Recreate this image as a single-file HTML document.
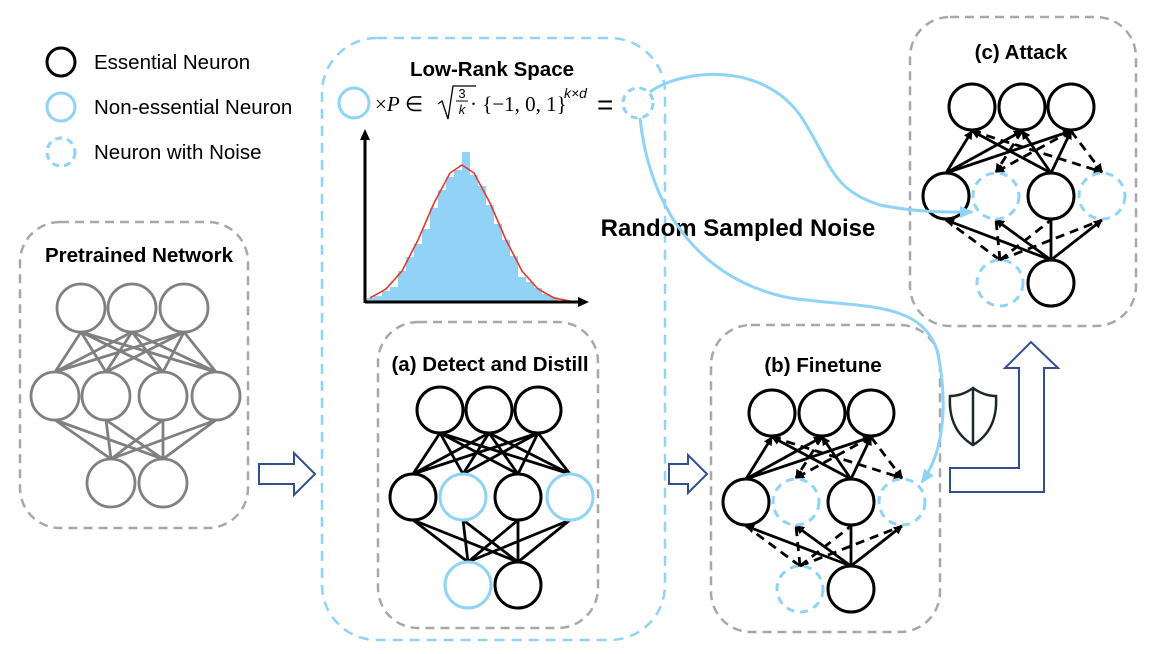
<!DOCTYPE html>
<html><head><meta charset="utf-8"><style>
body{margin:0;background:#fff;}
svg{display:block;}
text{font-family:"Liberation Sans",Arial,sans-serif;}
.t{font-weight:bold;font-size:20.5px;text-anchor:middle;}
.f{font-family:"Liberation Serif",serif;font-size:21px;}
</style></head><body>
<svg width="1163" height="654" viewBox="0 0 1163 654" xmlns="http://www.w3.org/2000/svg">
<defs>
<marker id="ah" markerWidth="9" markerHeight="9" refX="8" refY="4.5" orient="auto" markerUnits="userSpaceOnUse"><path d="M0,0 L9,4.5 L0,9 Z" fill="#000"/></marker>
<marker id="bh" markerWidth="14" markerHeight="12" refX="12" refY="6" orient="auto" markerUnits="userSpaceOnUse"><path d="M0,0 L14,6 L0,12 Z" fill="#8fd3f7"/></marker>
<g id="net">
 <g stroke="#000" stroke-width="2.8" fill="none">
  <line x1="746" y1="479" x2="772" y2="437" marker-end="url(#ah)"/>
  <line x1="746" y1="479" x2="822" y2="437" marker-end="url(#ah)"/>
  <line x1="746" y1="479" x2="871" y2="437" marker-end="url(#ah)"/>
  <line x1="851" y1="479" x2="772" y2="437" marker-end="url(#ah)"/>
  <line x1="851" y1="479" x2="822" y2="437" marker-end="url(#ah)"/>
  <line x1="851" y1="479" x2="871" y2="437" marker-end="url(#ah)"/>
  <line x1="851" y1="566" x2="746" y2="526" marker-end="url(#ah)"/>
  <line x1="851" y1="566" x2="796" y2="526" marker-end="url(#ah)"/>
  <line x1="851" y1="566" x2="851" y2="526"/>
  <line x1="851" y1="566" x2="902" y2="526" marker-end="url(#ah)"/>
 </g>
 <g stroke="#000" stroke-width="2.8" fill="none" stroke-dasharray="9,6">
  <line x1="822" y1="437" x2="796" y2="478" marker-end="url(#ah)"/>
  <line x1="871" y1="437" x2="796" y2="478" marker-end="url(#ah)"/>
  <line x1="772" y1="437" x2="902" y2="478" marker-end="url(#ah)"/>
  <line x1="871" y1="437" x2="902" y2="478" marker-end="url(#ah)"/>
  <line x1="800" y1="566" x2="746" y2="526"/>
  <line x1="800" y1="566" x2="851" y2="526"/>
  <line x1="800" y1="566" x2="902" y2="526"/>
  <line x1="800" y1="566" x2="796" y2="526"/>
 </g>
 <g stroke="#000" stroke-width="3" fill="#fff">
  <circle cx="772" cy="413" r="23"/><circle cx="822" cy="413" r="23"/><circle cx="871" cy="413" r="23"/>
  <circle cx="746" cy="502" r="23"/><circle cx="851" cy="502" r="23"/><circle cx="851" cy="589" r="23"/>
 </g>
 <g stroke="#8fd3f7" stroke-width="3" fill="none" stroke-dasharray="8,6">
  <circle cx="796" cy="502" r="23"/><circle cx="902" cy="502" r="23"/><circle cx="800" cy="589" r="23"/>
 </g>
</g>
</defs>

<!-- legend -->
<circle cx="61" cy="62" r="14" stroke="#000" stroke-width="3" fill="none"/>
<circle cx="61" cy="107" r="14" stroke="#8fd3f7" stroke-width="3" fill="none"/>
<circle cx="61" cy="152" r="14" stroke="#8fd3f7" stroke-width="3" fill="none" stroke-dasharray="7,5"/>
<text x="94" y="69" font-size="20.5">Essential Neuron</text>
<text x="94" y="114" font-size="20.5">Non-essential Neuron</text>
<text x="94" y="159" font-size="20.5">Neuron with Noise</text>

<!-- pretrained -->
<rect x="20" y="222" width="228" height="306" rx="40" fill="none" stroke="#a8a8a8" stroke-width="2.5" stroke-dasharray="9,6"/>
<text class="t" x="139" y="262">Pretrained Network</text>
<g stroke="#808080" stroke-width="2.8" fill="none">
 <path d="M81,332L55,372M81,332L106,372M81,332L163,372M81,332L216,372M132,332L55,372M132,332L106,372M132,332L163,372M132,332L216,372M184,332L55,372M184,332L106,372M184,332L163,372M184,332L216,372"/>
 <path d="M55,420L111,459M55,420L163,459M106,420L111,459M106,420L163,459M163,420L111,459M163,420L163,459M216,420L111,459M216,420L163,459"/>
</g>
<g stroke="#808080" stroke-width="2.8" fill="#fff">
 <circle cx="81" cy="308" r="24"/><circle cx="132" cy="308" r="24"/><circle cx="184" cy="308" r="24"/>
 <circle cx="55" cy="396" r="24"/><circle cx="106" cy="396" r="24"/><circle cx="163" cy="396" r="24"/><circle cx="216" cy="396" r="24"/>
 <circle cx="111" cy="483" r="24"/><circle cx="163" cy="483" r="24"/>
</g>
<path d="M259,464 H294 V453 L315,474 L294,495 V484 H259 Z" fill="#fff" stroke="#2f4f8f" stroke-width="2"/>

<!-- low rank -->
<rect x="322" y="38" width="343" height="602" rx="55" fill="none" stroke="#8fd3f7" stroke-width="2.5" stroke-dasharray="10,7"/>
<text class="t" x="492" y="76">Low-Rank Space</text>
<circle cx="354" cy="103" r="15" stroke="#8fd3f7" stroke-width="3" fill="none"/>
<text class="f" x="375" y="111">×<tspan font-style="italic">P</tspan> ∈</text>
<path d="M438,104 L442,101 L448,119 L453,86 L476,86" stroke="#000" stroke-width="1.3" fill="none"/>
<text x="462" y="98" font-family="Liberation Serif" font-size="13" text-anchor="middle">3</text>
<line x1="456" y1="101" x2="468" y2="101" stroke="#000" stroke-width="1"/>
<text x="462" y="114" font-family="Liberation Serif" font-size="13" font-style="italic" text-anchor="middle">k</text>
<text class="f" x="470" y="111">· {−1, 0, 1}</text>
<text x="564" y="98" font-family="Liberation Serif" font-size="14" font-style="italic">k×d</text>
<text x="597" y="114" font-family="Liberation Serif" font-size="28">=</text>
<circle cx="638" cy="103" r="15" stroke="#8fd3f7" stroke-width="3" fill="none" stroke-dasharray="7,5"/>

<!-- histogram -->
<g fill="#92d2f7">
<rect x="366" y="298" width="8" height="4"/><rect x="374" y="296" width="8" height="6"/><rect x="382" y="291" width="8" height="11"/><rect x="390" y="287" width="8" height="15"/><rect x="398" y="271" width="8" height="31"/><rect x="406" y="257" width="8" height="45"/><rect x="414" y="244" width="8" height="58"/><rect x="422" y="229" width="8" height="73"/><rect x="430" y="208" width="8" height="94"/><rect x="438" y="190" width="8" height="112"/><rect x="446" y="177" width="8" height="125"/><rect x="454" y="170" width="8" height="132"/><rect x="462" y="152" width="8" height="150"/><rect x="470" y="175" width="8" height="127"/><rect x="478" y="186" width="8" height="116"/><rect x="486" y="205" width="8" height="97"/><rect x="494" y="224" width="8" height="78"/><rect x="502" y="240" width="8" height="62"/><rect x="510" y="256" width="8" height="46"/><rect x="518" y="277" width="8" height="25"/><rect x="526" y="282" width="8" height="20"/><rect x="534" y="288" width="8" height="14"/><rect x="542" y="294" width="8" height="8"/><rect x="550" y="297" width="8" height="5"/>
</g>
<path d="M370,298 L386,289 L402,271 L418,240 L434,203 L450,173 L462,165 L474,173 L490,203 L506,240 L522,271 L538,289 L554,298 L570,301" fill="none" stroke="#e8392a" stroke-width="1.6"/>
<g stroke="#000" stroke-width="3" fill="none">
<line x1="365" y1="303" x2="365" y2="138"/><line x1="365" y1="302" x2="580" y2="302"/>
</g>
<path d="M360,140 L365,129 L370,140 Z M578,297 L589,302 L578,307 Z" fill="#000"/>

<!-- (a) -->
<rect x="378" y="322" width="220" height="306" rx="40" fill="none" stroke="#a8a8a8" stroke-width="2.5" stroke-dasharray="9,6"/>
<text class="t" x="490" y="371">(a) Detect and Distill</text>
<g stroke="#000" stroke-width="2.8" fill="none">
 <path d="M413,474L440,433M413,474L489,433M413,474L538,433M463,474L440,433M463,474L489,433M463,474L538,433M518,474L440,433M518,474L489,433M518,474L538,433M570,474L440,433M570,474L489,433M570,474L538,433"/>
 <path d="M413,520L468,562M413,520L518,562M463,520L468,562M463,520L518,562M518,520L468,562M518,520L518,562M570,520L468,562M570,520L518,562"/>
</g>
<g stroke="#000" stroke-width="3" fill="#fff">
 <circle cx="440" cy="410" r="23"/><circle cx="489" cy="410" r="23"/><circle cx="538" cy="410" r="23"/>
 <circle cx="413" cy="497" r="23"/><circle cx="518" cy="497" r="23"/><circle cx="518" cy="585" r="23"/>
</g>
<g stroke="#8fd3f7" stroke-width="3" fill="#fff">
 <circle cx="463" cy="497" r="23"/><circle cx="570" cy="497" r="23"/><circle cx="468" cy="585" r="23"/>
</g>
<path d="M669,464 H688 V455 L707,474 L688,493 V484 H669 Z" fill="#fff" stroke="#2f4f8f" stroke-width="2"/>

<!-- (b) -->
<rect x="711" y="325" width="229" height="307" rx="40" fill="none" stroke="#a8a8a8" stroke-width="2.5" stroke-dasharray="9,6"/>
<text class="t" x="823" y="372">(b) Finetune</text>
<use href="#net"/>

<!-- (c) -->
<rect x="910" y="17" width="226" height="309" rx="40" fill="none" stroke="#a8a8a8" stroke-width="2.5" stroke-dasharray="9,6"/>
<text class="t" x="1021" y="59">(c) Attack</text>
<use href="#net" transform="translate(200,-306)"/>

<!-- shield -->
<path d="M950,396 Q962,396 973,388 Q984,396 996,396 Q998,430 973,445 Q948,430 950,396 Z" fill="#fff" stroke="#1a2a2a" stroke-width="2.5"/>
<line x1="973" y1="388" x2="973" y2="445" stroke="#1a2a2a" stroke-width="2.5"/>
<!-- up arrow -->
<path d="M950,492 V468 H1019 V368 H1005 L1031,342 L1058,368 H1044 V492 Z" fill="#fff" stroke="#2f4f8f" stroke-width="2"/>

<!-- random noise -->
<text x="738" y="236" font-weight="bold" font-size="24" text-anchor="middle">Random Sampled Noise</text>
<path d="M650,92 C680,70 760,60 800,115 C830,160 830,190 880,205 C920,213 950,212 972,212" fill="none" stroke="#8fd3f7" stroke-width="3" marker-end="url(#bh)"/>
<path d="M640,118 C650,210 700,280 790,298 C860,308 920,300 937,350 C948,400 945,450 922,482" fill="none" stroke="#8fd3f7" stroke-width="3" marker-end="url(#bh)"/>
</svg>
</body></html>
